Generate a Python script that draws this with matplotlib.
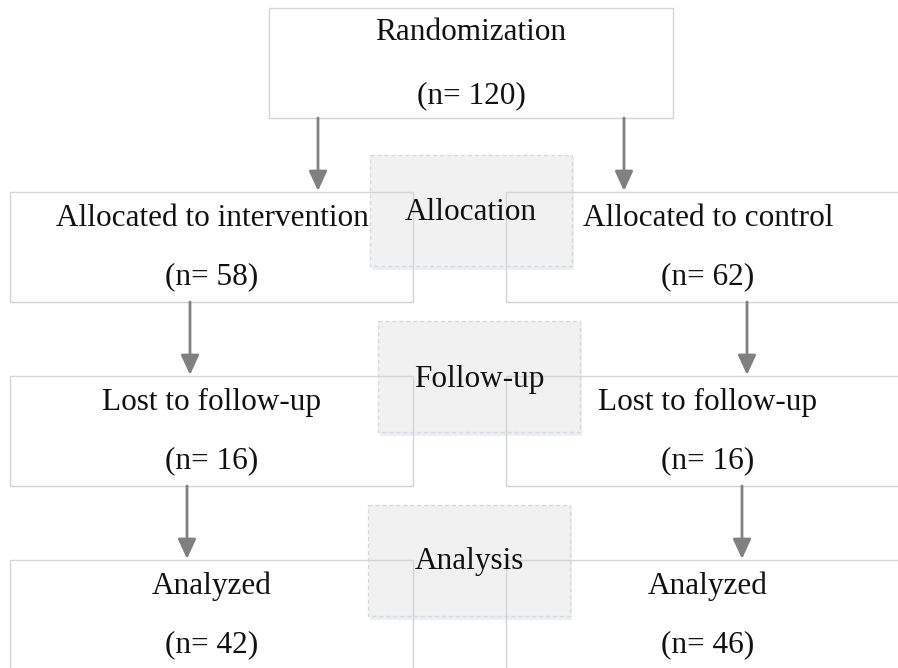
import matplotlib
matplotlib.use("Agg")
import matplotlib.pyplot as plt
from matplotlib.patches import Rectangle, FancyArrowPatch

# ---- data ----
top_label = "Randomization"
top_n = 120
stages = ["Allocation", "Follow-up", "Analysis"]
left_labels = ["Allocated to intervention", "Lost to follow-up", "Analyzed"]
left_n = [58, 16, 42]
right_labels = ["Allocated to control", "Lost to follow-up", "Analyzed"]
right_n = [62, 16, 46]

# ---- layout (pixels) ----
W, H = 898, 668
fig = plt.figure(figsize=(W / 100, H / 100), dpi=100)
ax = fig.add_axes([0, 0, 1, 1])
ax.set_xlim(0, W)
ax.set_ylim(H, 0)
ax.axis("off")

FONT = "Liberation Serif"
FS = 22.5
edge = "#d4d4d4"
arrow_c = "#808080"

row_top = [192, 376, 560]
row_h = 110
stage_boxes = [(370, 155), (378, 321), (368, 505)]
stage_w, stage_h = 202, 111
stage_text_x = [471, 479, 469]
stage_text_y = [213, 380, 562]
left_arrow_x = [318, 190, 187]
right_arrow_x = [624, 747, 742]


def text(x, y, s):
    ax.text(x, y, s, ha="center", va="center", fontsize=FS, family=FONT,
            color="#111111", zorder=6)


def arrow(x, y0, y1):
    a = FancyArrowPatch((x, y0), (x, y1), arrowstyle="-|>,head_length=12,head_width=5.5",
                        color=arrow_c, lw=2.0, mutation_scale=1, shrinkA=0, shrinkB=0,
                        zorder=5)
    ax.add_patch(a)


# stage boxes (behind)
for (sx, sy), lab, tx, ty in zip(stage_boxes, stages, stage_text_x, stage_text_y):
    ax.add_patch(Rectangle((sx + 2, sy + 4), stage_w, stage_h, facecolor="#e6effa",
                           edgecolor="none", zorder=1))
    ax.add_patch(Rectangle((sx, sy), stage_w, stage_h, facecolor="#f1f1f1",
                           edgecolor="#d8d8d8", lw=1, ls=(0, (3, 2)), zorder=2))
    text(tx, ty, lab)

# top box
ax.add_patch(Rectangle((269, 8), 404, 110, facecolor="white", edgecolor=edge, lw=1, zorder=3))
text(471, 33, top_label)
text(471, 96, f"(n= {top_n})")

# side boxes
for i in range(3):
    y = row_top[i]
    ax.add_patch(Rectangle((10, y), 403, row_h, facecolor="none", edgecolor=edge,
                           lw=1, zorder=4))
    ax.add_patch(Rectangle((506, y), 420, row_h, facecolor="none", edgecolor=edge,
                           lw=1, zorder=4))
    text(212, y + 26, left_labels[i])
    text(212, y + 85, f"(n= {left_n[i]})")
    text(708, y + 26, right_labels[i])
    text(708, y + 85, f"(n= {right_n[i]})")

# arrows
arrow(left_arrow_x[0], 118, row_top[0] - 1)
arrow(right_arrow_x[0], 118, row_top[0] - 1)
for i in range(1, 3):
    arrow(left_arrow_x[i], row_top[i - 1] + row_h, row_top[i] - 1)
    arrow(right_arrow_x[i], row_top[i - 1] + row_h, row_top[i] - 1)

fig.savefig("out.png", dpi=100, facecolor="white")
